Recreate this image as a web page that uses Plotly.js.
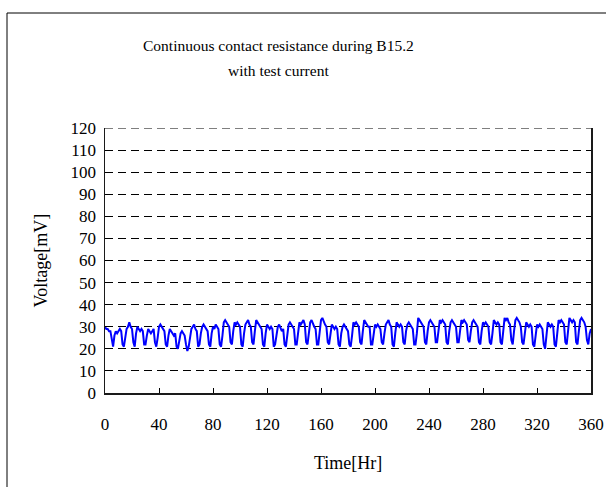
<!DOCTYPE html>
<html>
<head>
<meta charset="utf-8">
<script src="https://cdn.plot.ly/plotly-3.0.1.min.js"></script>
<style>
html,body{margin:0;padding:0;background:#fff;}
#chart{width:606px;height:487px;}
</style>
</head>
<body>
<div id="chart"></div>
<script>
// Chart text
const titleLines = ["Continuous contact resistance during B15.2", "with test current"];
const xTitle = "Time[Hr]";
const yTitle = "Voltage[mV]";

// X axis ticks (hours)
const xTickVals = [0, 40, 80, 120, 160, 200, 240, 280, 320, 360];
// Y axis ticks (mV)
const yTickVals = [0, 10, 20, 30, 40, 50, 60, 70, 80, 90, 100, 110, 120];

// Sampling: one reading per hour starting at hour 0
const startHour = 0;
const stepHours = 1;

// Voltage readings [mV], hourly, hours 0..360
const voltage = [
  30,29,29,28,28,24,21,26,
  28,27,28,29,28,22,21,25,
  29,30,32,30,29,23,21,27,
  30,29,28,29,28,22,22,26,
  29,28,27,28,29,23,21,25,
  30,31,30,29,28,22,21,26,
  29,28,27,26,27,21,20,24,
  27,28,27,26,22,19,21,25,
  29,30,31,29,28,21,22,27,
  30,31,30,29,28,22,21,27,
  30,29,31,30,29,22,21,26,
  32,33,32,31,30,23,22,28,
  32,31,32,31,30,22,21,27,
  31,32,33,31,30,23,22,28,
  33,32,31,30,29,22,21,27,
  31,30,29,30,29,21,22,26,
  30,31,29,28,29,22,21,27,
  31,32,31,30,29,22,22,27,
  32,31,32,33,31,23,22,28,
  32,33,31,30,29,22,22,27,
  33,34,32,31,30,23,22,28,
  31,30,29,30,29,22,21,27,
  30,31,30,29,28,22,21,26,
  32,31,32,31,30,23,22,28,
  33,32,31,30,30,22,22,27,
  31,30,31,30,29,23,22,27,
  31,32,33,31,30,22,21,27,
  32,31,30,31,30,23,22,28,
  31,32,31,30,29,22,22,27,
  34,33,32,31,30,23,22,28,
  32,33,32,31,30,23,23,28,
  33,32,33,32,31,23,22,28,
  32,33,32,31,30,23,23,28,
  33,32,33,32,31,24,23,28,
  32,33,32,31,30,23,22,28,
  32,31,32,31,30,23,22,27,
  33,32,31,32,31,23,22,28,
  34,33,34,32,31,24,22,28,
  33,34,33,32,30,23,22,27,
  32,31,30,31,30,22,21,26,
  31,30,31,30,29,22,20,26,
  32,31,30,31,30,22,21,27,
  33,32,33,32,31,23,22,28,
  34,33,32,33,32,23,22,28,
  33,34,33,32,30,24,22,27,
  29
];

const fontFamily = '"Liberation Serif", "Times New Roman", serif';
const tickFont = {family: fontFamily, size: 17, color: '#000'};
const axisTitleFont = {family: fontFamily, size: 18, color: '#000'};
const titleFont = {family: fontFamily, size: 15.5, color: '#000'};

const trace = {
  type: 'scatter',
  mode: 'lines',
  x0: startHour,
  dx: stepHours,
  y: voltage,
  line: {color: '#0000FF', width: 2},
  hoverinfo: 'skip',
  showlegend: false
};

const H = 265, W = 486;
const layout = {
  width: 606,
  height: 487,
  margin: {l: 105, r: 15, t: 128, b: 94, pad: 0},
  paper_bgcolor: '#ffffff',
  plot_bgcolor: '#ffffff',
  font: tickFont,
  showlegend: false,
  xaxis: {
    range: [0, 360],
    tickmode: 'array',
    tickvals: xTickVals,
    ticktext: xTickVals.map(String),
    ticks: 'inside',
    ticklen: 5,
    tickwidth: 1,
    tickcolor: '#000',
    ticklabelstandoff: 15,
    showline: true,
    linecolor: '#1a1a1a',
    linewidth: 1.5,
    showgrid: false,
    zeroline: false,
    tickfont: tickFont
  },
  yaxis: {
    range: [0, 120],
    tickmode: 'array',
    tickvals: yTickVals,
    ticktext: yTickVals.map(String),
    ticks: 'inside',
    ticklen: 4,
    tickcolor: '#000',
    ticklabelstandoff: 4,
    showline: true,
    mirror: true,
    linecolor: '#1a1a1a',
    linewidth: 1.5,
    showgrid: true,
    gridcolor: '#000',
    gridwidth: 1,
    griddash: '8px,5px',
    zeroline: false,
    tickfont: tickFont
  },
  annotations: [
    {
      text: titleLines[0], xref: 'paper', yref: 'paper',
      x: (278 - 105) / W, y: 1 + (128 - 45) / H, xanchor: 'center', yanchor: 'middle',
      showarrow: false, font: titleFont
    },
    {
      text: titleLines[1], xref: 'paper', yref: 'paper',
      x: (278 - 105) / W, y: 1 + (128 - 70) / H, xanchor: 'center', yanchor: 'middle',
      showarrow: false, font: titleFont
    },
    {
      text: xTitle, xref: 'paper', yref: 'paper',
      x: 0.5, y: -(463 - 393) / H, xanchor: 'center', yanchor: 'middle',
      showarrow: false, font: axisTitleFont
    },
    {
      text: yTitle, xref: 'paper', yref: 'paper',
      x: (40 - 105) / W, y: 0.5, xanchor: 'center', yanchor: 'middle',
      textangle: -90,
      showarrow: false, font: axisTitleFont
    }
  ],
  shapes: [
    // top gridline at the maximum of the value axis
    {type: 'line', xref: 'paper', yref: 'y', x0: 0, x1: 1, y0: 120, y1: 120,
     line: {color: '#000', width: 1, dash: '8px,5px'}},
    // outer chart-area border (left and top visible)
    {type: 'line', xref: 'paper', yref: 'paper',
     x0: (7 - 105) / W, x1: (7 - 105) / W, y0: 1 + (128 - 13) / H, y1: -0.5,
     line: {color: '#000', width: 1}},
    {type: 'line', xref: 'paper', yref: 'paper',
     x0: (7 - 105) / W, x1: 1.2, y0: 1 + (128 - 13) / H, y1: 1 + (128 - 13) / H,
     line: {color: '#000', width: 1}}
  ]
};

Plotly.newPlot('chart', [trace], layout, {staticPlot: true, displayModeBar: false});
</script>
</body>
</html>
